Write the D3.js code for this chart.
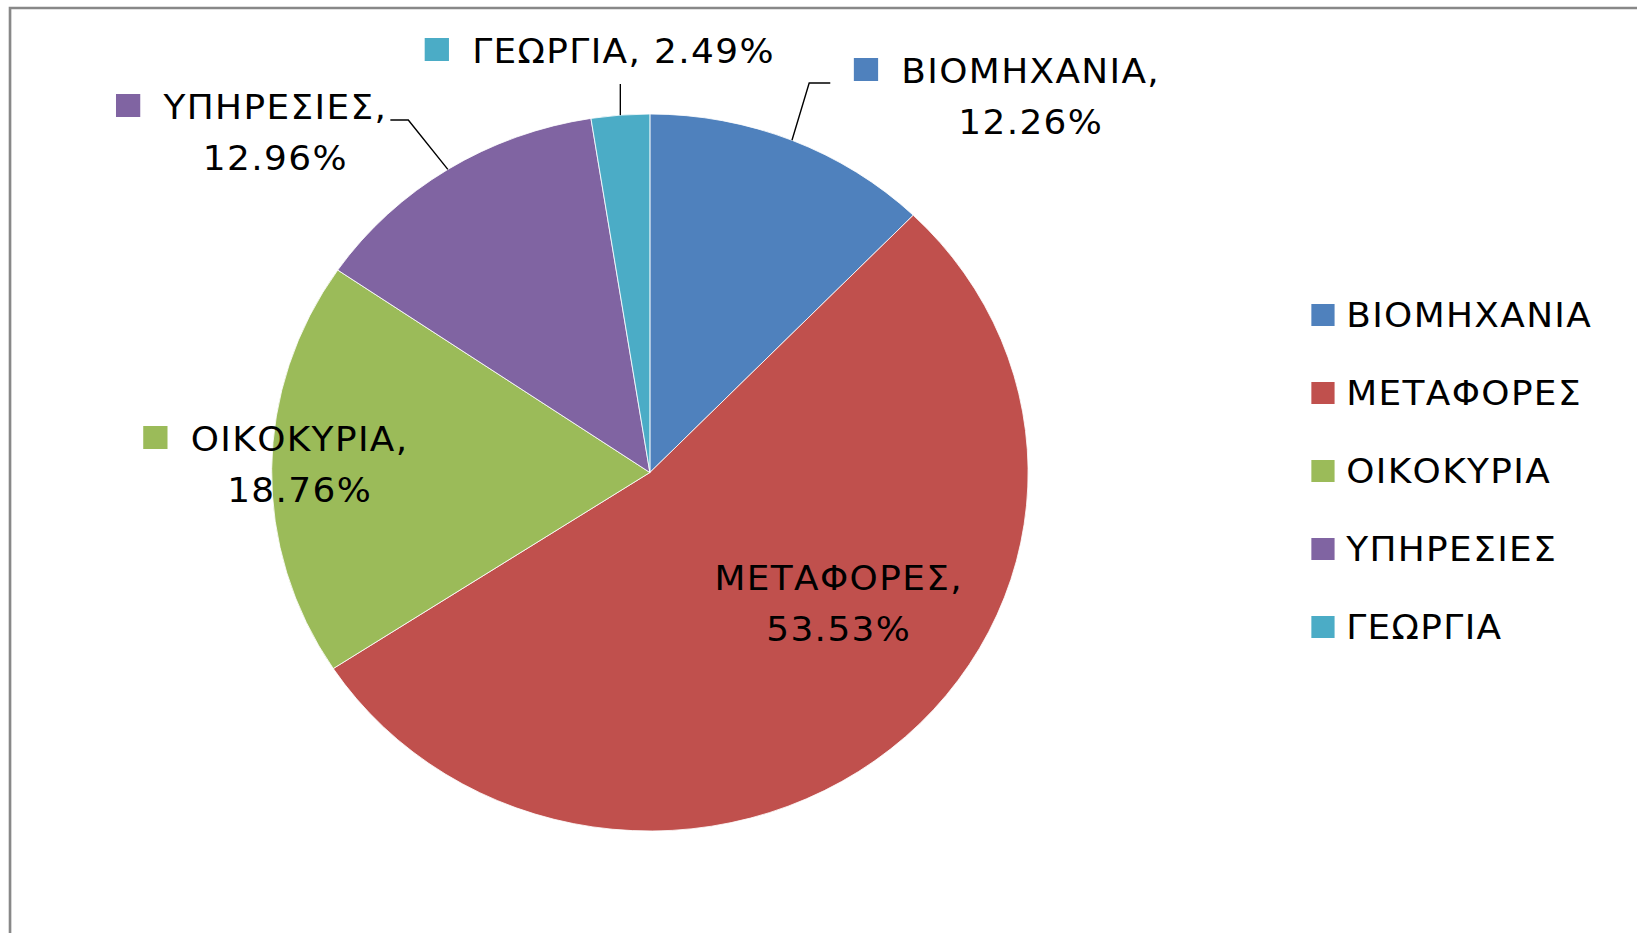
<!DOCTYPE html>
<html>
<head>
<meta charset="utf-8">
<script src="https://cdn.jsdelivr.net/npm/d3@7"></script>
<style>
  html, body { margin: 0; padding: 0; background: #fff; }
  svg { display: block; }
  text { font-family: "DejaVu Sans", sans-serif; fill: #000; letter-spacing: 1.3px; }
</style>
</head>
<body>
<svg id="chart" width="1637" height="933"></svg>
<script>
// chart data
const sectors = ["ΒΙΟΜΗΧΑΝΙΑ", "ΜΕΤΑΦΟΡΕΣ", "ΟΙΚΟΚΥΡΙΑ", "ΥΠΗΡΕΣΙΕΣ", "ΓΕΩΡΓΙΑ"];
const shares = [12.26, 53.53, 18.76, 12.96, 2.49];
const colours = ["#4F81BD", "#C0504D", "#9BBB59", "#8064A2", "#4BACC6"];

// the original picture is stretched sideways, so draw in a narrower box
sx = 1.055;
W = 1637 / sx;
H = 933;
svg = d3.select("#chart")
  .attr("viewBox", "0 0 " + W + " " + H)
  .attr("preserveAspectRatio", "none");

cx = 616;
cy = 472.5;
radius = 358.5;
fontSize = 34;

// frame (left and top edge only are visible)
svg.append("path")
  .attr("d", "M9.5," + H + " V8 H" + W)
  .attr("fill", "none")
  .attr("stroke", "#888")
  .attr("stroke-width", 2.5);

data = sectors.map(function(s, i) { return {name: s, value: shares[i], colour: colours[i]}; });

pie = d3.pie().sort(null).value(function(d) { return d.value; });
arc = d3.arc().innerRadius(0).outerRadius(radius);
arcs = pie(data);

g = svg.append("g").attr("transform", "translate(" + cx + "," + cy + ")");
g.selectAll("path")
  .data(arcs)
  .enter()
  .append("path")
  .attr("d", arc)
  .attr("fill", function(d) { return d.data.colour; })
  .attr("stroke", "#fff")
  .attr("stroke-width", 0.8);

fmt = function(v) { return v.toFixed(2) + "%"; };

// data label placement (text centre, first baseline), leader elbow + end
labelPos = [
  {x: 977, y: 83, lines: 2, key: true, leader: [[767, 83], [787, 83]]},
  {x: 795, y: 590, lines: 2, key: false, leader: null},
  {x: 284, y: 451, lines: 2, key: true, leader: null},
  {x: 261, y: 119, lines: 2, key: true, leader: [[387, 120], [370, 120]]},
  {x: 591, y: 63, lines: 1, key: true, leader: [[null, 84]]}
];
lineGap = 51;

labels = svg.append("g");
arcs.forEach(function(a, i) {
  p = labelPos[i];
  mid = (a.startAngle + a.endAngle) / 2;
  ex = cx + radius * Math.sin(mid);
  ey = cy - radius * Math.cos(mid);

  if (p.leader) {
    pts = [[ex, ey]].concat(p.leader.map(function(q) { return [q[0] === null ? ex : q[0], q[1]]; }));
    labels.append("path")
      .attr("d", d3.line()(pts))
      .attr("fill", "none")
      .attr("stroke", "#000")
      .attr("stroke-width", 1.3);
  }

  first = p.lines === 2 ? a.data.name + "," : a.data.name + ", " + fmt(a.data.value);
  t1 = labels.append("text")
    .attr("x", p.x)
    .attr("y", p.y)
    .attr("text-anchor", "middle")
    .attr("font-size", fontSize)
    .text(first);
  if (p.lines === 2) {
    labels.append("text")
      .attr("x", p.x)
      .attr("y", p.y + lineGap)
      .attr("text-anchor", "middle")
      .attr("font-size", fontSize)
      .text(fmt(a.data.value));
  }
  if (p.key) {
    w = t1.node().getComputedTextLength();
    labels.append("rect")
      .attr("x", p.x - w / 2 - 22 - 23)
      .attr("y", p.y - 25)
      .attr("width", 23)
      .attr("height", 23)
      .attr("fill", a.data.colour);
  }
});

// legend
legend = svg.append("g").attr("transform", "translate(1243,327)");
item = legend.selectAll("g")
  .data(data)
  .enter()
  .append("g")
  .attr("transform", function(d, i) { return "translate(0," + (i * 78) + ")"; });
item.append("rect")
  .attr("x", 0)
  .attr("y", -23)
  .attr("width", 22)
  .attr("height", 22)
  .attr("fill", function(d) { return d.colour; });
item.append("text")
  .attr("x", 33)
  .attr("y", 0)
  .attr("font-size", fontSize)
  .text(function(d) { return d.name; });
</script>
</body>
</html>
